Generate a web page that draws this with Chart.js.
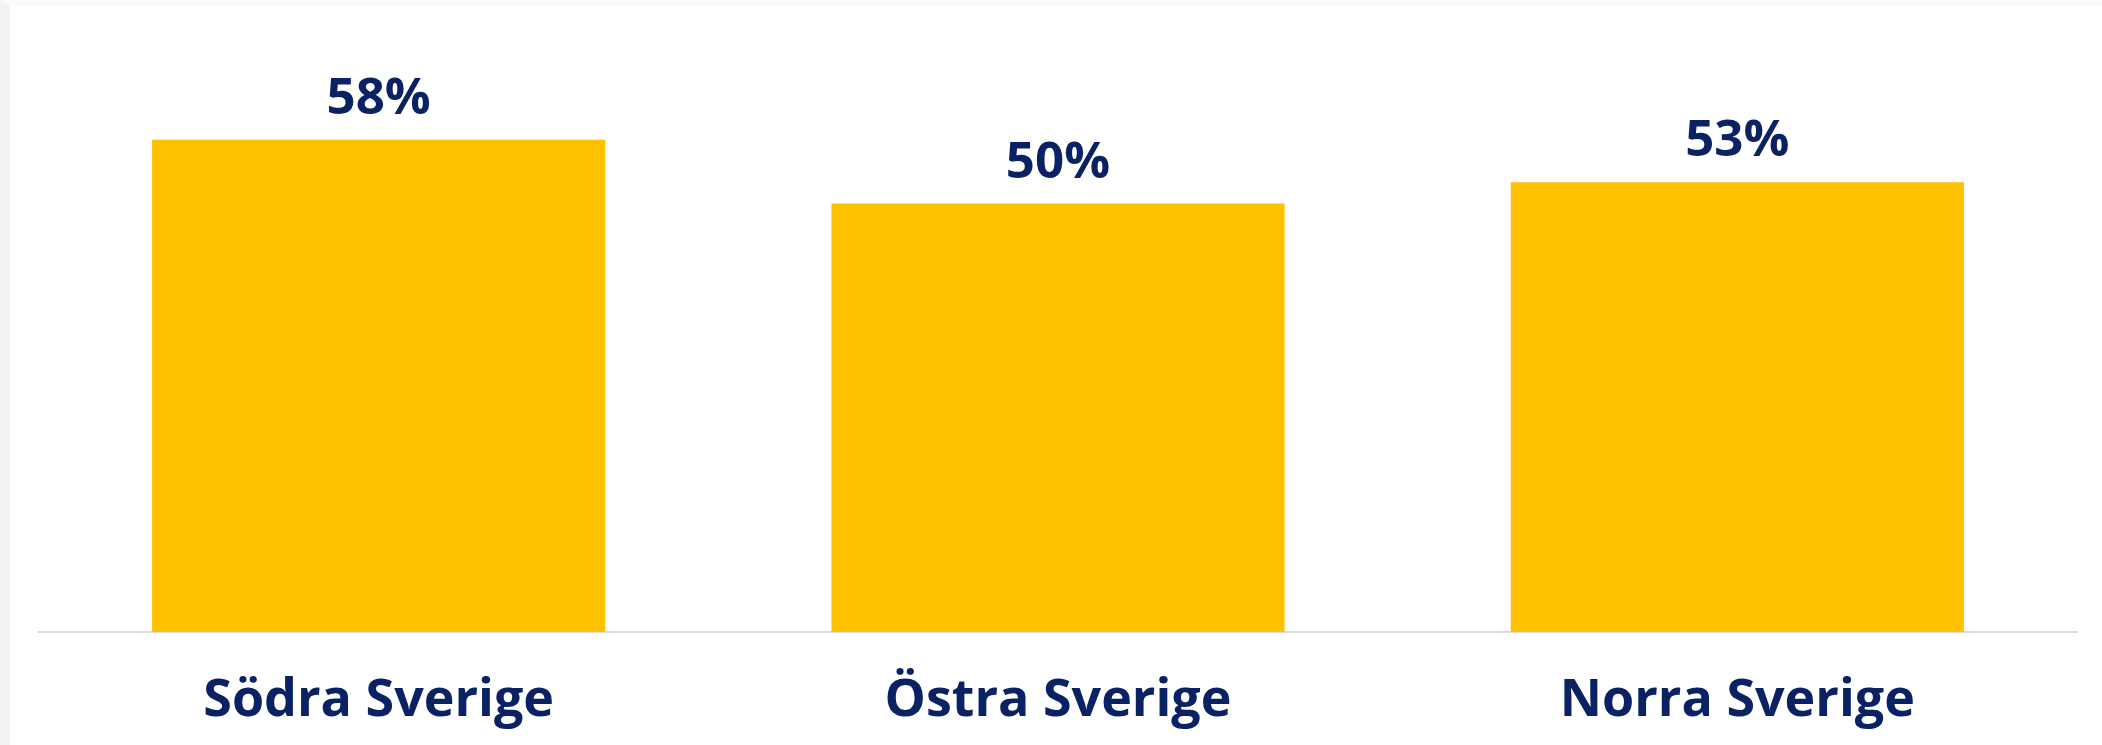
<!DOCTYPE html>
<html>
<head>
<meta charset="utf-8">
<script src="https://cdn.jsdelivr.net/npm/chart.js@4"></script>
<style>
  html, body { margin: 0; padding: 0; background: #ffffff; }
  .wrap {
    width: 2092px;
    height: 739px;
    border-left: 10px solid #f2f2f2;
    border-top: 6px solid #fafafa;
    background: #ffffff;
  }
  canvas { display: block; }
</style>
</head>
<body>
<div class="wrap">
  <canvas id="regionChart" width="2092" height="739"></canvas>
</div>
<script>
const regions = ["Södra Sverige", "Östra Sverige", "Norra Sverige"];
const shares = [57.9, 50.4, 52.9];
const yMax = 70;

const navy = "#0a2264";
const fontFamily = "'Open Sans', 'DejaVu Sans', sans-serif";

// draws the % label above each bar
const valueLabels = {
  id: "valueLabels",
  afterDatasetsDraw(chart) {
    const ctx = chart.ctx;
    const meta = chart.getDatasetMeta(0);
    ctx.save();
    ctx.fillStyle = navy;
    ctx.font = "700 51px " + fontFamily;
    ctx.textAlign = "center";
    ctx.textBaseline = "alphabetic";
    meta.data.forEach((bar, i) => {
      ctx.fillText(Math.round(shares[i]) + "%", bar.x, bar.y - 26);
    });
    ctx.restore();
  },
};

const ctx = document.getElementById("regionChart");
const regionChart = new Chart(ctx, {
  type: "bar",
  data: {
    labels: regions,
    datasets: [
      {
        label: "Andel",
        data: shares,
        backgroundColor: "#ffc000",
        hoverBackgroundColor: "#ffc000",
        borderWidth: 0,
        categoryPercentage: 1,
        barPercentage: 0.667,
      },
    ],
  },
  options: {
    responsive: false,
    animation: false,
    layout: {
      padding: { top: 31, left: 29, right: 25, bottom: 0 },
    },
    plugins: {
      legend: { display: false },
      tooltip: { enabled: false },
    },
    scales: {
      y: {
        display: false,
        min: 0,
        max: yMax,
      },
      x: {
        grid: { display: false, drawTicks: false },
        border: { display: true, color: "#d9d9d9", width: 2 },
        ticks: {
          color: navy,
          padding: 38,
          font: { family: fontFamily, size: 52, weight: "700" },
        },
        afterFit(scale) {
          scale.height = 113;
        },
      },
    },
  },
  plugins: [valueLabels],
});
</script>
</body>
</html>
